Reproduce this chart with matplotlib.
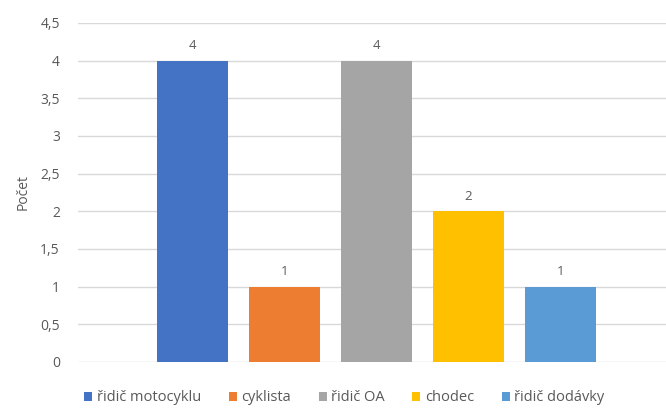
import matplotlib.pyplot as plt
from matplotlib.ticker import FuncFormatter

# data
categories = ["řidič motocyklu", "cyklista", "řidič OA", "chodec", "řidič dodávky"]
values = [4, 1, 4, 2, 1]
colors = ["#4472C4", "#ED7D31", "#A5A5A5", "#FFC000", "#5B9BD5"]
yticks = [0, 0.5, 1, 1.5, 2, 2.5, 3, 3.5, 4, 4.5]

plt.rcParams['font.family'] = ['Open Sans', 'DejaVu Sans']
text_col = "#595959"

fig = plt.figure(figsize=(6.66, 4.08), dpi=100)
ax = fig.add_axes([0.117, 0.113, 0.883, 0.831])

bars = []
for i, (cat, val, col) in enumerate(zip(categories, values, colors)):
    b = ax.bar(i, val, width=0.77, color=col, label=cat, zorder=3)
    bars.append(b)
    ax.annotate(str(val), (i, val), xytext=(0, 6), textcoords="offset points",
                ha="center", va="bottom", fontsize=9.5, color=text_col)

ax.set_xlim(-1.245, 5.147)
ax.set_ylim(0, 4.5)
ax.set_yticks(yticks)
ax.yaxis.set_major_formatter(FuncFormatter(lambda v, p: f"{v:g}".replace(".", ",")))
ax.set_xticks([])
ax.tick_params(axis="y", length=0, pad=13, labelsize=10, labelcolor=text_col)
ax.grid(axis="y", color="#D9D9D9", linewidth=1, zorder=0)
for s in ax.spines.values():
    s.set_visible(False)

ax.set_ylabel("Počet", fontsize=10, color=text_col, labelpad=7)

fig.legend(handles=[b[0] for b in bars], labels=categories, loc="center",
           bbox_to_anchor=(0.517, 0.025), ncol=5, frameon=False, fontsize=10.5,
           handlelength=0.55, handleheight=0.55, handletextpad=0.3, columnspacing=1.9,
           labelcolor=text_col)

fig.savefig("out.png", dpi=100)
